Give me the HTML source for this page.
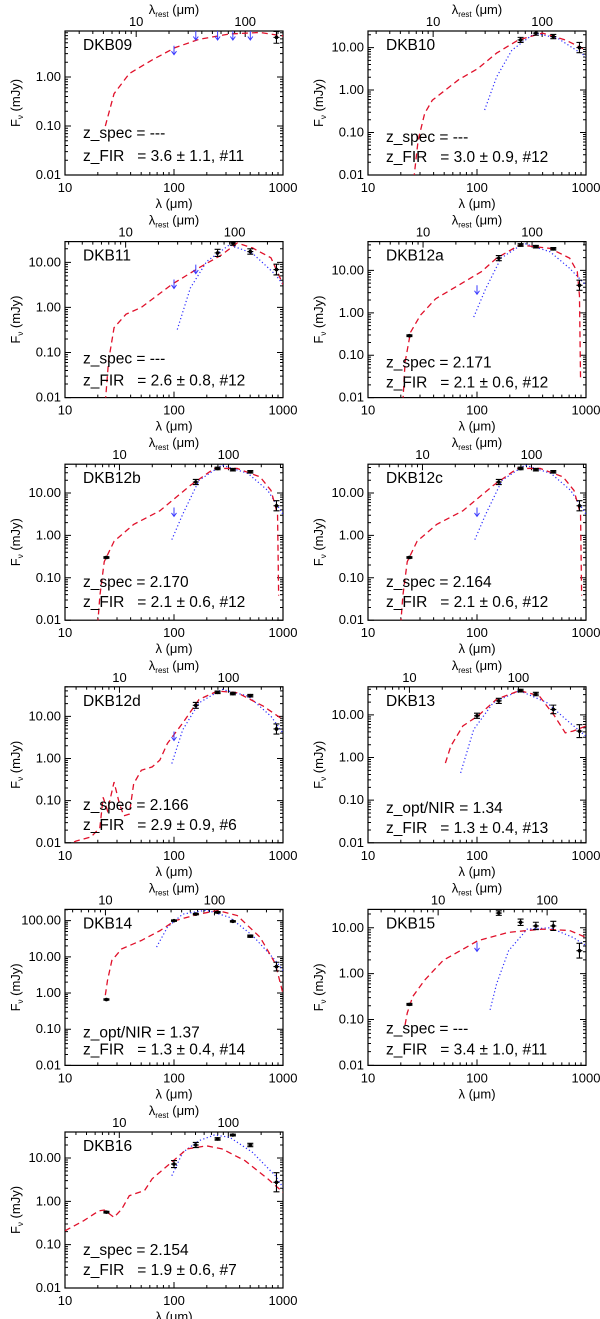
<!DOCTYPE html>
<html><head><meta charset="utf-8">
<style>
html,body{margin:0;padding:0;background:#fff;}
svg{display:block;font-family:"Liberation Sans",Arial,sans-serif;}
</style></head>
<body>
<svg id="fig" width="600" height="1319" viewBox="0 0 600 1319" xmlns="http://www.w3.org/2000/svg"></svg>
<script>
// ---- chart data (log10 λ[μm], log10 F[mJy]) ----
const panelNames = ["DKB09","DKB10","DKB11","DKB12a","DKB12b","DKB12c","DKB12d","DKB13","DKB14","DKB15","DKB16"];
const zLine1 = ["z_spec = ---","z_spec = ---","z_spec = ---","z_spec = 2.171","z_spec = 2.170","z_spec = 2.164","z_spec = 2.166","z_opt/NIR = 1.34","z_opt/NIR = 1.37","z_spec = ---","z_spec = 2.154"];
const zLine2 = ["z_FIR   = 3.6 ± 1.1, #11","z_FIR   = 3.0 ± 0.9, #12","z_FIR   = 2.6 ± 0.8, #12","z_FIR   = 2.1 ± 0.6, #12","z_FIR   = 2.1 ± 0.6, #12","z_FIR   = 2.1 ± 0.6, #12","z_FIR   = 2.9 ± 0.9, #6","z_FIR   = 1.3 ± 0.4, #13","z_FIR   = 1.3 ± 0.4, #14","z_FIR   = 3.4 ± 1.0, #11","z_FIR   = 1.9 ± 0.6, #7"];
const restFactor = [4.5,3.96,3.6,3.2,3.16,3.16,3.16,2.4,2.35,4.4,3.15];
const yMaxLog = [0.94,1.39,1.46,1.68,1.68,1.68,1.70,1.66,2.31,1.40,1.60];
const yTickLabels = ["0.01","0.10","1.00","10.00","100.00"];
const xTickLabels = ["10","100","1000"];

const red = [
 [[1.37,-1.0],[1.45,-0.34],[1.59,0.07],[1.80,0.35],[2.01,0.6],[2.23,0.77],[2.51,0.88],[2.79,0.91],[3.0,0.84]],
 [[1.42,-2.1],[1.46,-1.18],[1.52,-0.55],[1.59,-0.24],[1.83,0.24],[2.01,0.51],[2.18,0.87],[2.38,1.18],[2.60,1.34],[2.81,1.18],[3.0,0.94]],
 [[1.37,-2.1],[1.40,-1.18],[1.45,-0.45],[1.56,-0.15],[1.70,0.0],[1.98,0.51],[2.23,0.88],[2.44,1.17],[2.58,1.43],[2.72,1.32],[2.89,1.1],[3.0,0.51]],
 [[1.32,-2.1],[1.34,-1.17],[1.39,-0.46],[1.48,-0.06],[1.62,0.33],[1.83,0.65],[2.04,0.97],[2.18,1.29],[2.39,1.6],[2.67,1.52],[2.85,1.29],[2.92,0.97],[2.94,0.41],[2.95,-1.57]],
 [[1.30,-2.1],[1.32,-1.42],[1.36,-0.62],[1.45,-0.14],[1.63,0.26],[1.87,0.58],[2.15,1.18],[2.37,1.58],[2.58,1.58],[2.79,1.38],[2.89,1.06],[2.95,0.5],[2.96,-1.42]],
 [[1.30,-2.1],[1.32,-1.42],[1.36,-0.62],[1.45,-0.14],[1.63,0.26],[1.87,0.58],[2.15,1.18],[2.37,1.58],[2.58,1.58],[2.79,1.38],[2.89,1.06],[2.95,0.5],[2.96,-1.42]],
 [[1.0,-2.08],[1.10,-1.96],[1.24,-1.86],[1.32,-1.64],[1.35,-0.92],[1.39,-1.24],[1.45,-0.56],[1.50,-1.08],[1.54,-1.36],[1.59,-1.32],[1.63,-0.6],[1.70,-0.28],[1.80,-0.2],[1.87,-0.04],[1.94,0.36],[2.08,0.84],[2.23,1.4],[2.40,1.6],[2.58,1.56],[2.82,1.24],[3.0,0.92]],
 [[1.71,-0.13],[1.76,0.27],[1.87,0.74],[2.01,0.98],[2.18,1.37],[2.39,1.57],[2.57,1.45],[2.71,0.98],[2.81,0.58],[2.88,0.62],[3.0,0.74]],
 [[1.37,-0.06],[1.39,0.35],[1.43,0.9],[1.52,1.22],[1.70,1.45],[1.87,1.72],[2.01,2.0],[2.23,2.18],[2.40,2.28],[2.58,2.14],[2.79,1.54],[2.93,0.81],[3.0,-0.02]],
 [[1.34,-1.12],[1.36,-0.86],[1.41,-0.5],[1.52,-0.14],[1.69,0.29],[2.01,0.72],[2.29,0.9],[2.60,0.97],[2.85,0.94],[3.0,0.79]],
 [[1.0,-0.68],[1.17,-0.45],[1.31,-0.22],[1.36,-0.2],[1.45,-0.37],[1.52,-0.18],[1.59,0.13],[1.73,0.25],[1.80,0.52],[1.94,0.82],[2.12,1.21],[2.30,1.28],[2.44,1.21],[2.65,0.94],[2.86,0.52],[3.0,0.21]]
];
const blue = [
 [],
 [[2.07,-0.47],[2.18,0.31],[2.32,0.94],[2.53,1.34],[2.74,1.22],[3.0,0.79]],
 [[2.03,-0.49],[2.15,0.43],[2.30,1.02],[2.51,1.39],[2.72,1.2],[2.93,0.73],[3.0,0.51]],
 [[1.97,-0.1],[2.08,0.57],[2.22,1.29],[2.43,1.64],[2.67,1.44],[2.85,1.05],[3.0,0.65]],
 [[1.98,-0.1],[2.08,0.5],[2.23,1.3],[2.44,1.66],[2.68,1.46],[2.86,1.06],[3.0,0.5]],
 [[1.98,-0.1],[2.08,0.5],[2.23,1.3],[2.44,1.66],[2.68,1.46],[2.86,1.06],[3.0,0.5]],
 [[1.98,-0.12],[2.08,0.68],[2.23,1.32],[2.44,1.64],[2.68,1.48],[2.89,1.0],[3.0,0.6]],
 [[1.85,-0.36],[1.97,0.66],[2.15,1.29],[2.39,1.57],[2.64,1.29],[2.85,0.82],[3.0,0.5]],
 [[1.84,1.27],[1.94,1.82],[2.08,2.18],[2.30,2.29],[2.51,2.09],[2.72,1.59],[2.93,0.9],[3.0,0.62]],
 [[2.12,-0.79],[2.18,-0.22],[2.29,0.5],[2.46,0.97],[2.67,1.0],[2.88,0.79],[3.0,0.61]],
 [[1.98,0.59],[2.08,1.13],[2.23,1.4],[2.37,1.53],[2.51,1.48],[2.72,1.13],[2.93,0.59],[3.0,0.32]]
];
// detections: [log λ, log F, log err]
const points = [
 [[2.94,0.81,0.12]],
 [[2.40,1.18,0.06],[2.54,1.34,0.05],[2.70,1.26,0.05],[2.94,1.0,0.12]],
 [[2.40,1.21,0.08],[2.54,1.43,0.05],[2.70,1.24,0.06],[2.94,0.84,0.12]],
 [[1.38,-0.54,0.02],[2.20,1.29,0.06],[2.40,1.6,0.03],[2.54,1.56,0.03],[2.70,1.51,0.03],[2.94,0.65,0.12]],
 [[1.38,-0.52,0.02],[2.20,1.26,0.06],[2.40,1.58,0.03],[2.54,1.55,0.03],[2.70,1.5,0.03],[2.94,0.7,0.12]],
 [[1.38,-0.52,0.02],[2.20,1.26,0.06],[2.40,1.58,0.03],[2.54,1.55,0.03],[2.70,1.5,0.03],[2.94,0.7,0.12]],
 [[2.20,1.26,0.07],[2.40,1.57,0.03],[2.54,1.54,0.03],[2.70,1.49,0.03],[2.94,0.7,0.12]],
 [[2.0,0.98,0.06],[2.20,1.33,0.06],[2.40,1.57,0.03],[2.54,1.49,0.04],[2.70,1.13,0.1],[2.94,0.62,0.15]],
 [[1.38,-0.18,0.02],[2.0,2.0,0.02],[2.20,2.18,0.02],[2.40,2.23,0.02],[2.54,1.98,0.02],[2.70,1.57,0.03],[2.94,0.73,0.12]],
 [[1.38,-0.67,0.02],[2.20,1.32,0.05],[2.40,1.12,0.07],[2.54,1.04,0.08],[2.70,1.04,0.1],[2.94,0.5,0.16]],
 [[1.38,-0.25,0.02],[2.0,0.86,0.08],[2.20,1.3,0.06],[2.40,1.44,0.03],[2.54,1.53,0.02],[2.70,1.3,0.04],[2.94,0.44,0.22]]
];
// upper limits: [log λ, log F]
const limits = [
 [[2.0,0.64],[2.20,0.95],[2.40,0.95],[2.54,0.95],[2.70,0.95]],
 [],
 [[2.0,0.62],[2.20,0.95]],
 [[2.0,0.65]],
 [[2.0,0.66]],
 [[2.0,0.66]],
 [[2.0,0.64]],
 [],
 [],
 [[2.0,0.68]],
 []
];
const zOff1 = [42,38,39,35,38,38,38,35,33,37,38];
const zOff2 = [19,18,17,15,18,18,18,15,16,16,18];

// ---- drawing ----
const NS = "http://www.w3.org/2000/svg";
const fig = document.getElementById('fig');
function mk(tag, attrs, parent){
  const e = document.createElementNS(NS, tag);
  for (const k in attrs) e.setAttribute(k, attrs[k]);
  (parent||fig).appendChild(e);
  return e;
}
const colX = [65, 368], boxW = 218;
function geom(i){
  const r = Math.floor(i/2), c = i%2;
  const bottom = 175 + 222.6*r;
  const top = r===0 ? 31 : bottom - 156;
  return {left: colX[c], right: colX[c]+boxW, top, bottom};
}
for (let i=0;i<panelNames.length;i++){
  const g = geom(i);
  const yMin = -2, yMax = yMaxLog[i];
  const xs = lx => g.left + (lx-1)/2*boxW;
  const ys = ly => g.bottom - (ly-yMin)/(yMax-yMin)*(g.bottom-g.top);
  const grp = mk('g', {});
  
  
  const cid = 'clip'+i;
  const cp = mk('clipPath', {id:cid}, grp);
  mk('rect', {x:g.left, y:g.top, width:boxW, height:g.bottom-g.top}, cp);
  const box = mk('rect', {x:g.left, y:g.top, width:boxW, height:g.bottom-g.top, fill:'none', stroke:'#000', 'stroke-width':1.2}, grp);
  
  
  let tp = '';
  for (let d=1; d<3; d++) for (let m=1; m<10; m++){
    const lx = d + Math.log10(m); if (lx>3) continue;
    const x = xs(lx), L = m===1?6:3;
    tp += `M${x},${g.bottom}v${-L}`;
  }
  for (let d=-2; d<3; d++) for (let m=1; m<10; m++){
    const ly = d + Math.log10(m); if (ly>yMax) continue;
    const y = ys(ly), L = m===1?6:3;
    tp += `M${g.left},${y}h${L}M${g.right},${y}h${-L}`;
  }
  const rf = Math.log10(restFactor[i]);
  for (let d=0; d<3; d++) for (let m=1; m<10; m++){
    const lx = d + Math.log10(m) + rf; if (lx<1 || lx>3) continue;
    const x = xs(lx), L = m===1?6:3;
    tp += `M${x},${g.top}v${L}`;
  }
  const ticks = mk('path', {d:tp, stroke:'#000', 'stroke-width':1, fill:'none'}, grp);
  
  
  xTickLabels.forEach((t,k)=>{
    const e = mk('text', {x:xs(1+k), y:g.bottom+17, 'font-size':13, 'text-anchor':'middle'}, grp);
    e.textContent = t;
    
    
  });
  const xt = mk('text', {x:(g.left+g.right)/2, y:g.bottom+33, 'font-size':13, 'text-anchor':'middle'}, grp);
  xt.textContent = 'λ (μm)';
  
  
  yTickLabels.forEach((t,k)=>{
    const ly = k-2; if (ly>yMax+0.01) return;
    const e = mk('text', {x:g.left-4, y:ys(ly)+4, 'font-size':13, 'text-anchor':'end'}, grp);
    e.textContent = t;
    
    
  });
  const yt = mk('text', {x:0, y:0, 'font-size':13, 'text-anchor':'middle', transform:`translate(${g.left-45},${(g.top+g.bottom)/2}) rotate(-90)`}, grp);
  yt.innerHTML = 'F<tspan font-size="8" dy="3">ν</tspan><tspan dy="-3"> (mJy)</tspan>';
  
  
  [10,100].forEach(v=>{
    const lx = Math.log10(v)+rf; if (lx<1||lx>3) return;
    const e = mk('text', {x:xs(lx), y:g.top-5, 'font-size':13, 'text-anchor':'middle'}, grp);
    e.textContent = String(v);
    
    
  });
  const tt = mk('text', {x:(g.left+g.right)/2, y:g.top-17, 'font-size':13, 'text-anchor':'middle'}, grp);
  tt.innerHTML = 'λ<tspan font-size="8" dy="3">rest</tspan><tspan dy="-3"> (μm)</tspan>';
  
  
  const cg = mk('g', {'clip-path':`url(#${cid})`}, grp);
  if (blue[i].length){
    const b = mk('polyline', {points: blue[i].map(p=>xs(p[0])+','+ys(p[1])).join(' '), fill:'none', stroke:'#2a2aff', 'stroke-width':1.2, 'stroke-dasharray':'1.2,2.4'}, cg);
    
    
  }
  const rl = mk('polyline', {points: red[i].map(p=>xs(p[0])+','+ys(p[1])).join(' '), fill:'none', stroke:'#e0102a', 'stroke-width':1.3, 'stroke-dasharray':'6,4'}, cg);
  
  
  limits[i].forEach(p=>{
    const x = xs(p[0]), y = Math.max(ys(p[1]), g.top);
    const a = mk('path', {d:`M${x},${y}v9M${x-2.5},${y+5.5}L${x},${y+9}L${x+2.5},${y+5.5}`, stroke:'#3a3aff', 'stroke-width':1, fill:'none'}, cg);
    
    
  });
  points[i].forEach(p=>{
    const x = xs(p[0]), y = ys(p[1]), y1 = ys(p[1]+p[2]), y2 = ys(p[1]-p[2]);
    const e = mk('path', {d:`M${x},${y1}V${y2}M${x-3},${y1}h6M${x-3},${y2}h6M${x-3},${y}h6`, stroke:'#000', 'stroke-width':1.1, fill:'none'}, cg);
    
    
    const d = mk('circle', {cx:x, cy:y, r:1.8, fill:'#000'}, cg);
    
    
  });
  const nm = mk('text', {x:g.left+18, y:g.top+19, 'font-size':15.5}, grp);
  nm.textContent = panelNames[i];
  
  
  const z1 = mk('text', {x:g.left+18, y:g.bottom-zOff1[i]+5, 'font-size':15.5, 'xml:space':'preserve', style:'white-space:pre'}, grp);
  z1.textContent = zLine1[i];
  
  
  const z2 = mk('text', {x:g.left+18, y:g.bottom-zOff2[i]+5, 'font-size':15.5, 'xml:space':'preserve', style:'white-space:pre'}, grp);
  z2.textContent = zLine2[i];
  
  
}
</script>
</body></html>
